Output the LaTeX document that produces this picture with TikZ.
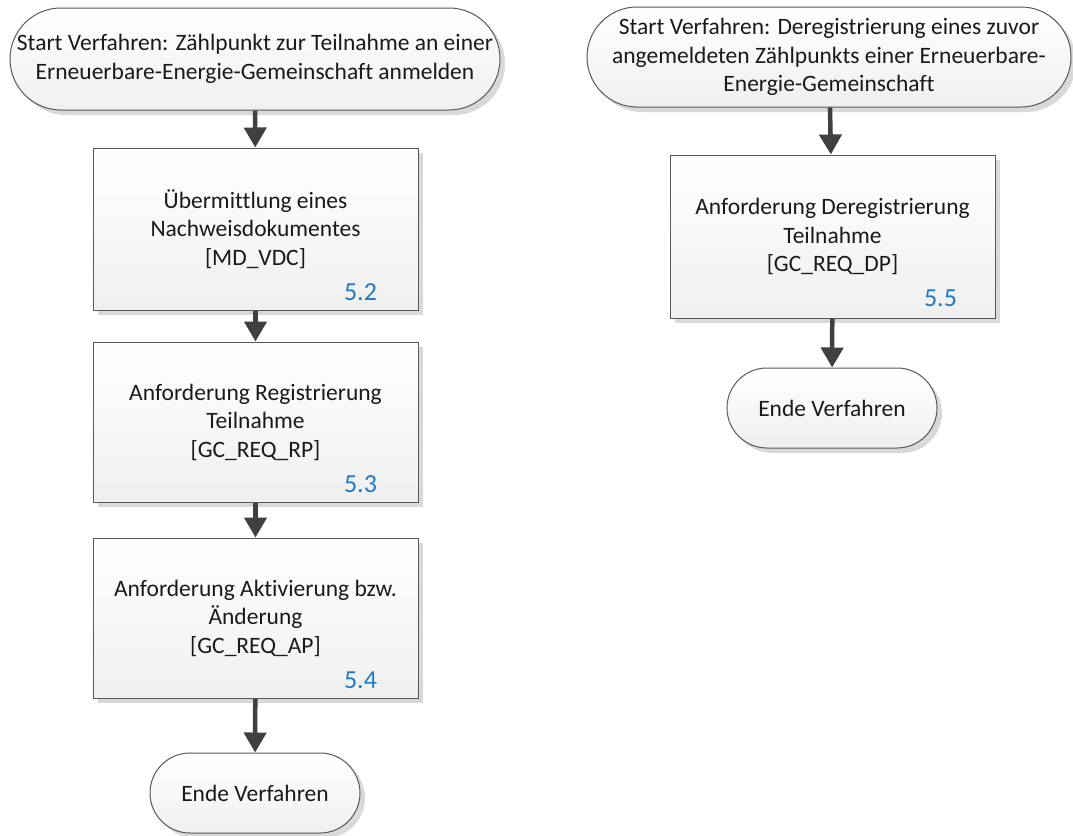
\documentclass[tikz,border=0pt]{standalone}
\usepackage{fontspec}
\setmainfont{Carlito}[Ligatures=NoCommon]
\usetikzlibrary{arrows.meta,shapes.misc,shadows}
\definecolor{edgec}{HTML}{595959}
\definecolor{arrc}{HTML}{404040}
\definecolor{numc}{HTML}{1F7AC8}
\definecolor{txtc}{HTML}{1A1A1A}
\begin{document}
\begin{tikzpicture}[x=1pt,y=-1pt,
  base/.style={draw=edgec, line width=1pt, top color=white, bottom color=gray!12,
    drop shadow={shadow xshift=5pt,shadow yshift=-5pt,fill=gray!30,opacity=1},
    align=center, font=\fontsize{23.5}{28.5}\selectfont, text=txtc, inner sep=0pt},
  term/.style={base, rounded rectangle},
  proc/.style={base, rectangle, minimum width=325pt},
  flow/.style={draw=arrc, line width=4.5pt, -{Triangle[length=20pt,width=22pt]}},
  numlbl/.style={text=numc, font=\fontsize{26}{28}\selectfont, inner sep=0pt}
]
\useasboundingbox (0,0) rectangle (1073,835);
\fill[white] (0,0) rectangle (1073,835);

% left flow
\node[term, minimum width=490pt, minimum height=102pt] (s1) at (255,59)
  {Start Verfahren: Zählpunkt zur Teilnahme an einer\\Erneuerbare-Energie-Gemeinschaft anmelden};
\node[proc, minimum height=162pt] (b1) at (255.5,229)
  {Übermittlung eines\\Nachweisdokumentes\\{[MD\_VDC]}};
\node[proc, minimum height=160pt] (b2) at (255.5,422)
  {Anforderung Registrierung\\Teilnahme\\{[GC\_REQ\_RP]}};
\node[proc, minimum height=160pt] (b3) at (255.5,618)
  {Anforderung Aktivierung bzw.\\Änderung\\{[GC\_REQ\_AP]}};
\node[term, minimum width=210pt, minimum height=80pt] (e1) at (255,793) {Ende Verfahren};

\node[numlbl] (n1) at ([shift={(-58,-18)}]b1.south east) {5.2};
\node[numlbl] (n2) at ([shift={(-58,-18)}]b2.south east) {5.3};
\node[numlbl] (n3) at ([shift={(-58,-18)}]b3.south east) {5.4};

\draw[flow] (s1) -- (b1);
\draw[flow] (b1) -- (b2);
\draw[flow] (b2) -- (b3);
\draw[flow] (b3) -- (e1);

% right flow
\node[term, minimum width=484pt, minimum height=100pt] (s2) at (829,57)
  {Start Verfahren: Deregistrierung eines zuvor\\angemeldeten Zählpunkts einer Erneuerbare-\\Energie-Gemeinschaft};
\node[proc, minimum height=163pt] (b4) at (832.5,236.5)
  {Anforderung Deregistrierung\\Teilnahme\\{[GC\_REQ\_DP]}};
\node[term, minimum width=210pt, minimum height=80pt] (e2) at (832,408) {Ende Verfahren};
\node[numlbl] (n4) at ([shift={(-55,-20)}]b4.south east) {5.5};

\draw[flow] (s2) -- (b4);
\draw[flow] (b4) -- (e2);
\end{tikzpicture}
\end{document}
